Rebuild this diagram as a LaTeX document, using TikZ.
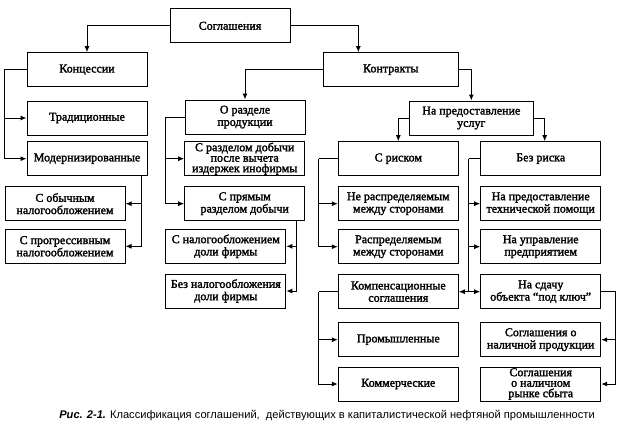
\documentclass[tikz,border=0pt]{standalone}
\usepackage{fontspec}
\setmainfont{Liberation Serif}
\setsansfont{Liberation Sans}
\newfontfamily\boxfont{Liberation Serif}[FakeBold=2]
\usetikzlibrary{arrows.meta}
\begin{document}
\begin{tikzpicture}[x=1pt,y=-1pt,
box/.style={draw,line width=1pt,minimum width=120pt,minimum height=34pt,
  inner xsep=1pt,inner ysep=0pt,align=center,
  font=\boxfont\fontsize{12}{12.3}\selectfont},
tight/.style={font=\boxfont\fontsize{12}{10.5}\selectfont},
arr/.style={-{Latex[length=6pt,width=5pt]},line width=1pt},
link/.style={line width=1pt}]
\useasboundingbox (0,0) rectangle (631,437);
\node[box] (sogl) at (230,25.8) {Соглашения};
\node[box] (konc) at (87,69.7) {Концессии};
\node[box,minimum width=135pt] (kontr) at (390.8,69.7) {Контракты};
\node[box] (trad) at (87,118) {Традиционные};
\node[box] (modern) at (87,158.7) {Модернизированные};
\node[box] (obych) at (65,203.7) {С обычным\\налогообложением};
\node[box] (progr) at (65,246.3) {С прогрессивным\\налогообложением};
\node[box] (orazd) at (245,117) {О разделе\\продукции};
\node[box,tight] (posle) at (244.7,158.7) {С разделом добычи\\после вычета\\издержек инофирмы};
\node[box] (pryam) at (244.7,203.7) {С прямым\\разделом добычи};
\node[box] (snal) at (225.8,246.3) {С налогообложением\\доли фирмы};
\node[box] (beznal) at (225.8,291) {Без налогообложения\\доли фирмы};
\node[box,minimum width=124pt] (uslug) at (471.3,118) {На предоставление\\услуг};
\node[box] (srisk) at (398.3,158.7) {С риском};
\node[box] (brisk) at (540.7,158.7) {Без риска};
\node[box] (nerasp) at (398.3,203.7) {Не распределяемым\\между сторонами};
\node[box] (rasp) at (398.3,246.7) {Распределяемым\\между сторонами};
\node[box] (komp) at (398.3,291.7) {Компенсационные\\соглашения};
\node[box] (prom) at (398.3,339.7) {Промышленные};
\node[box] (komm) at (398.3,384) {Коммерческие};
\node[box] (tech) at (540.7,203.7) {На предоставление\\технической помощи};
\node[box] (upr) at (540.7,246.7) {На управление\\предприятием};
\node[box] (kluch) at (540.7,291.7) {На сдачу\\объекта “под ключ”};
\node[box] (nalprod) at (540.7,339.7) {Соглашения о\\наличной продукции};
\node[box,tight] (rynok) at (540.7,384) {Соглашения\\о наличном\\рынке сбыта};
\node[font=\sffamily\fontsize{11.1}{12}\selectfont] (capt) at (327,416)
  {\textbf{\textit{Рис. 2-1.}} Классификация соглашений,\ \ действующих в капиталистической нефтяной промышленности};
\draw[arr] (sogl.west) -| (konc.north);
\draw[arr] (sogl.east) -| ([xshift=-32.5pt]kontr.north);
\draw[arr] (kontr.west) -| (orazd.north);
\draw[arr] (kontr.east) -| (uslug.north);
\draw[arr] (uslug.west) -| (srisk.north);
\draw[arr] (uslug.east) -| ([xshift=4pt]brisk.north);
\coordinate (kk) at ([xshift=-22.3pt]konc.west);
\draw[link] (konc.west) -- (kk);
\foreach \n in {trad,modern}
  \draw[arr] (kk) |- (\n);
\foreach \n in {obych,progr}
  \draw[arr] ([xshift=-6pt]modern.south east) |- (\n);
\coordinate (oo) at ([xshift=-19.3pt]orazd.west);
\draw[link] (orazd.west) -- (oo);
\foreach \n in {posle,pryam}
  \draw[arr] (oo) |- (\n);
\foreach \n in {snal,beznal}
  \draw[arr] ([xshift=-8.3pt]pryam.south east) |- (\n);
\coordinate (ss) at ([xshift=-19pt]srisk.west);
\draw[link] (srisk.west) -- (ss);
\foreach \n in {nerasp,rasp}
  \draw[arr] (ss) |- (\n);
\coordinate (bb) at ([xshift=-11.4pt]brisk.west);
\draw[link] (brisk.west) -- (bb);
\foreach \n in {tech,upr,kluch}
  \draw[arr] (bb) |- (\n);
\draw[arr] (bb |- kluch.west) -- (komp.east);
\coordinate (kp) at ([xshift=-19pt]komp.west);
\draw[link] (komp.west) -- (kp);
\foreach \n in {prom,komm}
  \draw[arr] (kp) |- (\n);
\coordinate (kl) at ([xshift=14.3pt]kluch.east);
\draw[link] (kluch.east) -- (kl);
\foreach \n in {nalprod,rynok}
  \draw[arr] (kl) |- (\n);
\end{tikzpicture}
\end{document}
